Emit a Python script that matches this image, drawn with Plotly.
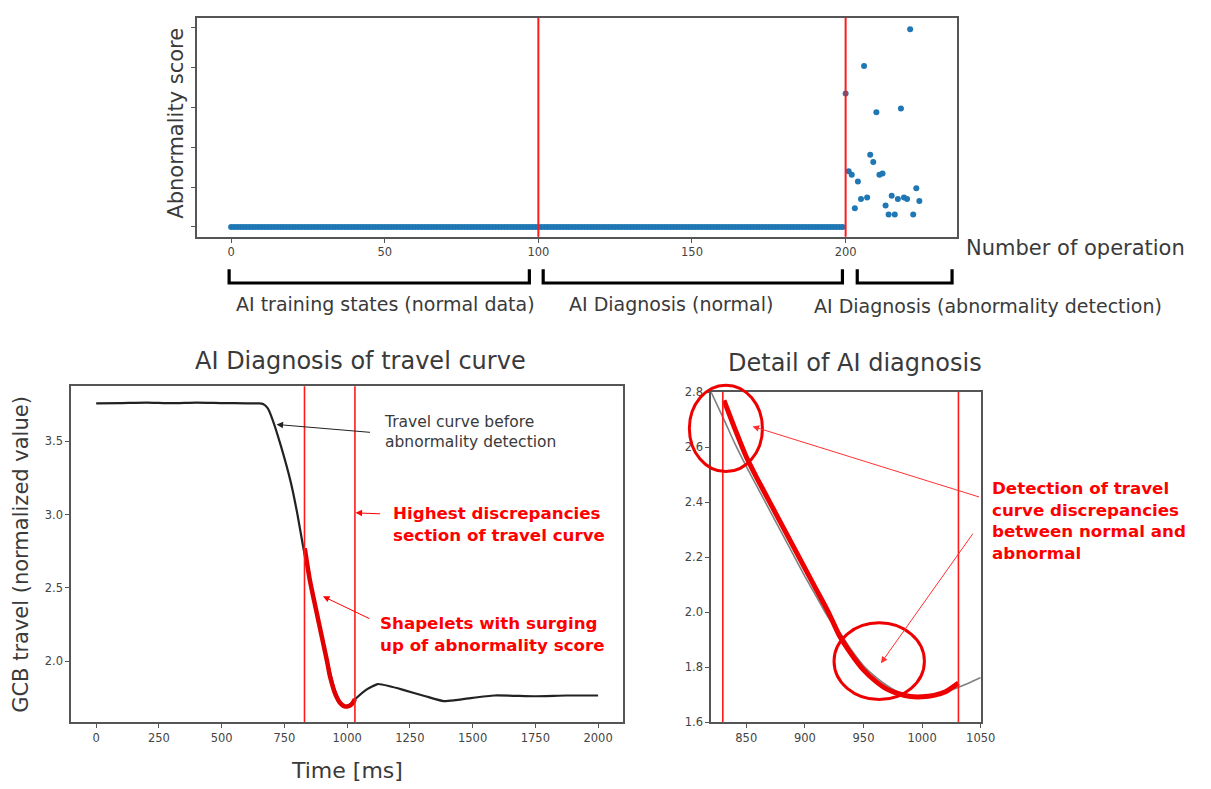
import plotly.graph_objects as go

# ---------------- data ----------------
normal_ops = list(range(0, 200))
normal_scores = [0.0] * 200

abnormal_ops = [200, 201, 202, 203, 204, 205, 206, 207, 208, 209, 210, 211, 212,
                213, 214, 215, 216, 217, 218, 219, 220, 221, 222, 223, 224]
abnormal_scores = [3.35, 1.40, 1.31, 0.47, 1.14, 0.70, 4.04, 0.74, 1.81, 1.63, 2.88,
                   1.31, 1.34, 0.54, 0.31, 0.78, 0.31, 0.70, 2.97, 0.74, 0.70, 4.96,
                   0.31, 0.97, 0.65]
phase_lines = [100, 200]
top_xticks = [0, 50, 100, 150, 200]
score_ticks = [0, 1, 2, 3, 4, 5]

travel_t = [0, 100, 200, 300, 400, 500, 600, 650, 665, 684, 703, 736, 775, 802, 824,
            847, 880, 919, 952, 970, 985, 998, 1011, 1037, 1077, 1122, 1170, 1220,
            1312, 1384, 1430, 1483, 1587, 1745, 1875, 2000]
travel_v = [3.757, 3.759, 3.762, 3.758, 3.762, 3.759, 3.757, 3.757, 3.752, 3.723, 3.645,
            3.467, 3.222, 3.00, 2.787, 2.60, 2.33, 2.02, 1.795, 1.73, 1.697, 1.692,
            1.706, 1.75, 1.807, 1.845, 1.83, 1.807, 1.762, 1.729, 1.735, 1.747, 1.767,
            1.762, 1.767, 1.767]

shapelet_t = [831, 840, 850, 860, 870, 880, 890, 900, 910, 920, 930, 940, 950, 960,
              970, 980, 990, 1000, 1010, 1020, 1031]
shapelet_v = [2.77, 2.67, 2.565, 2.48, 2.40, 2.32, 2.24, 2.16, 2.08, 2.00, 1.91, 1.845,
              1.79, 1.75, 1.72, 1.703, 1.693, 1.692, 1.697, 1.71, 1.742]

normal_t = [820, 831, 840, 850, 860, 870, 880, 890, 900, 910, 920, 930, 940, 950, 960,
            970, 980, 990, 1000, 1010, 1020, 1030, 1040, 1050]
normal_v = [2.80, 2.70, 2.615, 2.53, 2.45, 2.37, 2.29, 2.21, 2.13, 2.055, 1.98, 1.925,
            1.86, 1.805, 1.765, 1.733, 1.708, 1.697, 1.695, 1.70, 1.71, 1.725, 1.742,
            1.762]
section_lines = [830, 1031]
bl_xticks = [0, 250, 500, 750, 1000, 1250, 1500, 1750, 2000]
bl_yticks = [2.0, 2.5, 3.0, 3.5]
br_xticks = [850, 900, 950, 1000, 1050]
br_yticks = [1.6, 1.8, 2.0, 2.2, 2.4, 2.6, 2.8]

# ---------------- layout helpers ----------------
W, H = 1211, 789
def PX(x):
    return x / W
def PY(y):
    return 1 - y / H

FONT = "DejaVu Sans"
TXT = "#3a3a3a"
RED = "#ff1a1a"
BLUE = "#1f77b4"
FRAME = "#555555"

fig = go.Figure()

# top scatter
fig.add_trace(go.Scatter(x=normal_ops, y=normal_scores, mode="markers",
                         marker=dict(size=6, color=BLUE), xaxis="x", yaxis="y",
                         showlegend=False))
fig.add_trace(go.Scatter(x=abnormal_ops, y=abnormal_scores, mode="markers",
                         marker=dict(size=6, color=BLUE), xaxis="x", yaxis="y",
                         showlegend=False))

# bottom-left travel curve
fig.add_trace(go.Scatter(x=travel_t, y=travel_v, mode="lines",
                         line=dict(color="#222222", width=2.2, shape="spline", smoothing=0.5),
                         xaxis="x2", yaxis="y2", showlegend=False))
fig.add_trace(go.Scatter(x=shapelet_t, y=shapelet_v, mode="lines",
                         line=dict(color="#e00000", width=4.5, shape="spline", smoothing=0.5),
                         xaxis="x2", yaxis="y2", showlegend=False))

# bottom-right detail
fig.add_trace(go.Scatter(x=normal_t, y=normal_v, mode="lines",
                         line=dict(color="#808080", width=1.6, shape="spline", smoothing=0.6),
                         xaxis="x3", yaxis="y3", showlegend=False))
fig.add_trace(go.Scatter(x=shapelet_t, y=shapelet_v, mode="lines",
                         line=dict(color="#ee0000", width=5, shape="spline", smoothing=0.6),
                         xaxis="x3", yaxis="y3", showlegend=False))

axis_common = dict(showline=True, mirror=True, linecolor=FRAME, linewidth=1.5,
                   ticks="outside", ticklen=4, tickcolor=FRAME, showgrid=False,
                   zeroline=False, tickfont=dict(family=FONT, size=11.5, color="#444"))

fig.update_layout(
    width=W, height=H, margin=dict(l=0, r=0, t=0, b=0),
    paper_bgcolor="white", plot_bgcolor="white",
    xaxis=dict(domain=[PX(199), PX(969)], range=[-11.25, 236.25], tickvals=top_xticks,
               anchor="y", **axis_common),
    yaxis=dict(domain=[PY(234), PY(11)], range=[-0.25, 5.25], tickvals=score_ticks,
               showticklabels=False, anchor="x", **axis_common),
    xaxis2=dict(domain=[PX(72), PX(631)], range=[-100, 2100], tickvals=bl_xticks,
                anchor="y2", **axis_common),
    yaxis2=dict(domain=[PY(728), PY(386)], range=[1.586, 3.874], tickvals=bl_yticks,
                tickformat=".1f", anchor="x2", **axis_common),
    xaxis3=dict(domain=[PX(720), PX(993)], range=[820, 1050], tickvals=br_xticks,
                anchor="y3", **axis_common),
    yaxis3=dict(domain=[PY(728), PY(392)], range=[1.6, 2.8], tickvals=br_yticks,
                tickformat=".1f", anchor="x3", **axis_common),
)

shapes = []
for v in phase_lines:
    shapes.append(dict(type="line", xref="x", yref="y domain", x0=v, x1=v, y0=0, y1=1,
                       line=dict(color=RED, width=2), layer="above"))
for v in section_lines:
    shapes.append(dict(type="line", xref="x2", yref="y2 domain", x0=v, x1=v, y0=0, y1=1,
                       line=dict(color=RED, width=1.6), layer="above"))
    shapes.append(dict(type="line", xref="x3", yref="y3 domain", x0=v, x1=v, y0=0, y1=1,
                       line=dict(color=RED, width=1.6), layer="above"))

# brackets (paper/pixel positions)
for (a, b) in [(232, 536), (550, 853), (868, 964)]:
    y0, y1 = PY(267), PY(281)
    shapes.append(dict(type="path", xref="paper", yref="paper",
                       path=f"M {PX(a)},{y0} L {PX(a)},{y1} L {PX(b)},{y1} L {PX(b)},{y0}",
                       line=dict(color="black", width=3.2)))

# ellipses
for (x0, x1, y0, y1) in [(698, 772, 385, 473), (844.5, 936, 627, 705)]:
    shapes.append(dict(type="circle", xref="paper", yref="paper",
                       x0=PX(x0), x1=PX(x1), y0=PY(y1), y1=PY(y0),
                       line=dict(color="#ee0000", width=3)))
fig.update_layout(shapes=shapes)

ann = []
def text(t, x, y, size, color=TXT, xanchor="center", angle=0, bold=False):
    if bold:
        t = "<b>" + t.replace("<br>", "</b><br><b>") + "</b>"
    ann.append(dict(text=t, x=PX(x), y=PY(y), xref="paper", yref="paper",
                    xanchor=xanchor, yanchor="middle", showarrow=False,
                    textangle=angle, align="left",
                    font=dict(family=FONT, size=size, color=color)))

def arrow(hx, hy, tx, ty, color, width=1.0):
    ann.append(dict(text="", x=PX(hx), y=PY(hy), xref="paper", yref="paper",
                    ax=tx - hx, ay=ty - hy, axref="pixel", ayref="pixel",
                    showarrow=True, arrowhead=2, arrowsize=1.3, arrowwidth=width,
                    arrowcolor=color))

text("Abnormality score", 178, 118, 21, angle=-90)
text("Number of operation", 976, 245, 21, xanchor="left")
text("AI training states (normal data)", 390, 302, 19)
text("AI Diagnosis (normal)", 679, 302, 19)
text("AI Diagnosis (abnormality detection)", 1000, 304, 19)

text("AI Diagnosis of travel curve", 365, 360, 24)
text("Detail of AI diagnosis", 866, 362, 24)
text("Time [ms]", 351, 777, 22)
text("GCB travel (normalized value)", 21, 557, 21, angle=-90)

text("Travel curve before<br>abnormality detection", 387, 433, 15.5, xanchor="left")
text("Highest discrepancies<br>section of travel curve", 396, 526, 16.7, color="#ff0000",
     xanchor="left", bold=True)
text("Shapelets with surging<br>up of abnormality score", 383, 638, 16.7, color="#ff0000",
     xanchor="left", bold=True)
text("Detection of travel<br>curve discrepancies<br>between normal and<br>abnormal",
     1002, 523, 16.7, color="#ff0000", xanchor="left", bold=True)

arrow(280, 425, 375, 433, "#222222")
arrow(360, 515, 386, 516, "#ff0000")
arrow(327, 600, 375, 623, "#ff0000")
arrow(762, 427, 990, 498, "#ff3030")
arrow(892, 668, 985, 537, "#ff3030")

fig.update_layout(annotations=ann)
fig.write_html("out.html")
